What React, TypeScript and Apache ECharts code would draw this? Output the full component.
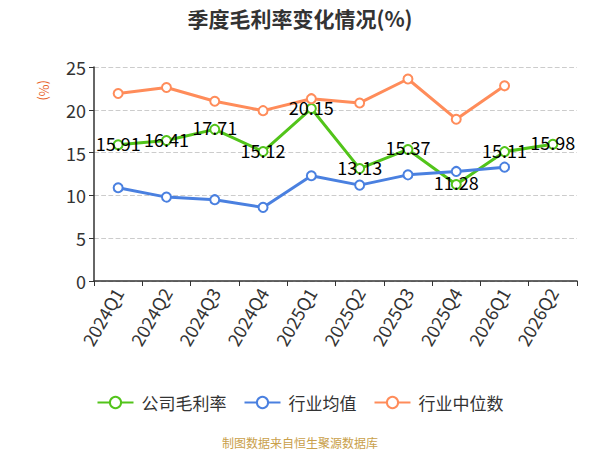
import React, { useEffect, useRef } from "react";
import * as echarts from "echarts";

const categories = ["2024Q1", "2024Q2", "2024Q3", "2024Q4", "2025Q1", "2025Q2", "2025Q3", "2025Q4", "2026Q1", "2026Q2"];
const companyMargin = [15.91, 16.41, 17.71, 15.12, 20.15, 13.13, 15.37, 11.28, 15.11, 15.98];
const industryAvg = [10.9, 9.8, 9.5, 8.6, 12.3, 11.2, 12.4, 12.8, 13.3, null];
const industryMedian = [21.9, 22.6, 21.0, 19.9, 21.3, 20.8, 23.6, 18.9, 22.8, null];
const seriesNames = ["公司毛利率", "行业均值", "行业中位数"];
const colors = ["#52c41a", "#4a80e0", "#ff8c5a"];

export default function App() {
  const ref = useRef<HTMLDivElement>(null);
  useEffect(() => {
    const chart = echarts.init(ref.current!, null, { renderer: "svg" });
    const font = "'Noto Sans CJK SC', 'Noto Sans', sans-serif";
    chart.setOption({
      animation: false,
      textStyle: { fontFamily: font },
      title: {
        text: "季度毛利率变化情况(%)",
        left: "center",
        top: 2,
        textStyle: { fontSize: 21, fontWeight: "bold", color: "#333", fontFamily: font },
      },
      grid: { left: 94, right: 23, top: 67, bottom: 169 },
      legend: {
        bottom: 34,
        left: "center",
        itemWidth: 36,
        itemHeight: 14,
        itemGap: 17,
        textStyle: { fontSize: 17, color: "#333", fontFamily: font, padding: [0, 0, 0, 3] },
        data: seriesNames,
      },
      graphic: [
        {
          type: "text",
          x: 51,
          y: 80,
          rotation: -Math.PI / 2,
          originX: 0,
          originY: 0,
          style: { text: "(%)", fill: "#e8642c", fontSize: 13, fontFamily: font },
        },
        {
          type: "text",
          left: "center",
          top: 436,
          style: { text: "制图数据来自恒生聚源数据库", fill: "#c9a04a", fontSize: 12, fontFamily: font },
        },
      ],
      xAxis: {
        type: "category",
        data: categories,
        boundaryGap: true,
        axisLine: { lineStyle: { color: "#333", width: 1.5 } },
        axisTick: { show: true, alignWithLabel: false, lineStyle: { color: "#333" } },
        axisLabel: { rotate: 60, fontSize: 18, color: "#333", margin: 8 },
      },
      yAxis: {
        type: "value",
        min: 0,
        max: 25,
        interval: 5,
        axisLine: { show: true, lineStyle: { color: "#333", width: 1.5 } },
        axisTick: { show: true, lineStyle: { color: "#333" } },
        axisLabel: { fontSize: 18, color: "#333" },
        splitLine: { lineStyle: { type: "dashed", color: "#ccc", width: 1.2 } },
      },
      series: [
        {
          name: seriesNames[0],
          type: "line",
          data: companyMargin,
          symbol: "emptyCircle",
          symbolSize: 9,
          lineStyle: { width: 3, color: colors[0] },
          itemStyle: { color: colors[0], borderWidth: 1.5 },
          label: {
            show: true,
            position: "inside",
            offset: [0, -2],
            fontSize: 18,
            color: "#000",
          },
          z: 3,
        },
        {
          name: seriesNames[1],
          type: "line",
          data: industryAvg,
          symbol: "emptyCircle",
          symbolSize: 9,
          lineStyle: { width: 3, color: colors[1] },
          itemStyle: { color: colors[1], borderWidth: 1.5 },
        },
        {
          name: seriesNames[2],
          type: "line",
          data: industryMedian,
          symbol: "emptyCircle",
          symbolSize: 9,
          lineStyle: { width: 3, color: colors[2] },
          itemStyle: { color: colors[2], borderWidth: 1.5 },
        },
      ],
    });
    return () => chart.dispose();
  }, []);
  return <div ref={ref} style={{ width: 600, height: 450, position: "absolute", left: 0, top: 0 }} />;
}
